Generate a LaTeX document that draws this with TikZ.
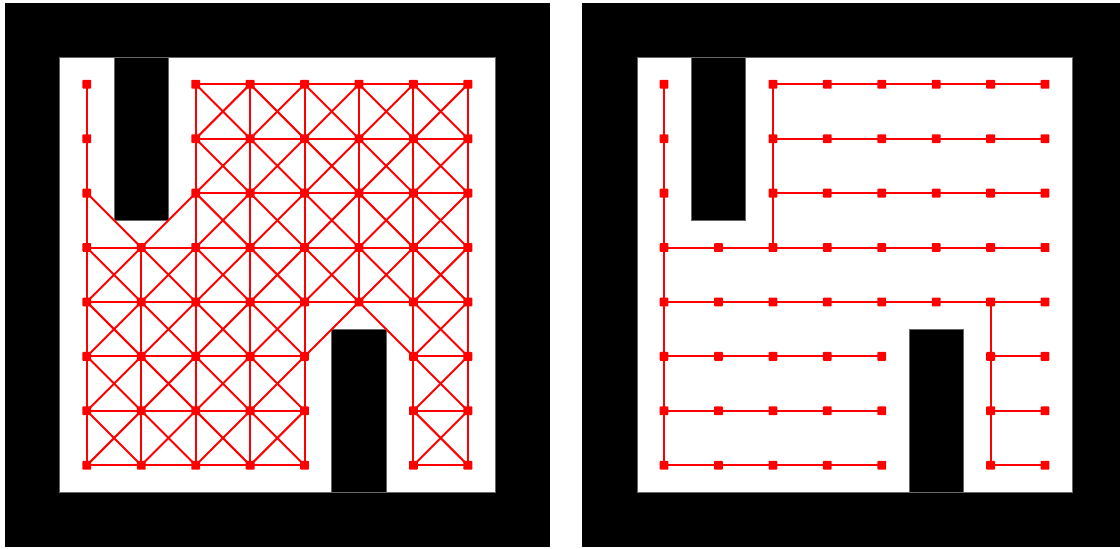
\documentclass[tikz,border=0pt]{standalone}
\pgfdeclarelayer{walls}
\pgfdeclarelayer{links}
\pgfsetlayers{walls,links,main}
\begin{document}
\begin{tikzpicture}[x=1pt,y=-1pt,
  wall/.style={fill=black, draw=black!60, line width=0.6pt},
  link/.style={draw=red, line width=2pt},
  vtx/.style={rectangle, fill=red, draw=none, minimum size=8.8pt, inner sep=0pt, rounded corners=0.8pt}]
\def\c{54.43}
\def\oy{2.6}
\useasboundingbox (0,0) rectangle (1120,549);
% walls of both panels
\begin{pgfonlayer}{walls}
\fill[white] (0,0) rectangle (1120,549);
\foreach \ox in {5.2,582.4}{
  \fill[black] (\ox,\oy) rectangle ({\ox+10*\c},{\oy+10*\c});
  \fill[white] ({\ox+\c},{\oy+\c}) rectangle ({\ox+9*\c},{\oy+9*\c});
  \draw[wall] ({\ox+2*\c},{\oy+\c}) rectangle ({\ox+3*\c},{\oy+4*\c});
  \draw[wall] ({\ox+6*\c},{\oy+6*\c}) rectangle ({\ox+7*\c},{\oy+9*\c});
  \draw[black!60, line width=0.6pt] ({\ox+\c},{\oy+\c}) rectangle ({\ox+9*\c},{\oy+9*\c});
}
\end{pgfonlayer}
% nodes on free cells
\foreach \P/\ox in {L/5.2,R/582.4}{
  \foreach \i in {0,...,7}{
    \foreach \j in {0,...,7}{
      \pgfmathtruncatemacro\blk{or(and(\i==1,\j<3),and(\i==5,\j>4))}
      \ifnum\blk=0
        \node[vtx] (\P-\i-\j) at ({\ox+(\i+1.5)*\c},{\oy+(\j+1.5)*\c}) {};
      \fi
    }
  }
}
% left panel: 8-connected grid graph
\begin{pgfonlayer}{links}
\foreach \i in {0,...,7}{
  \foreach \j in {0,...,7}{
    \pgfmathtruncatemacro\blk{or(and(\i==1,\j<3),and(\i==5,\j>4))}
    \ifnum\blk=0
      \foreach \di/\dj in {1/0,0/1,1/1,1/-1}{
        \pgfmathtruncatemacro\ni{\i+\di}
        \pgfmathtruncatemacro\nj{\j+\dj}
        \pgfmathtruncatemacro\ok{and(and(\ni<8,\nj<8),\nj>-1)*(1-or(and(\ni==1,\nj<3),and(\ni==5,\nj>4)))}
        \ifnum\ok=1
          \draw[link] (L-\i-\j.center) -- (L-\ni-\nj.center);
        \fi
      }
    \fi
  }
}
% right panel: spanning tree
\foreach \j in {0,...,6}{
  \pgfmathtruncatemacro\nj{\j+1}
  \draw[link] (R-0-\j.center) -- (R-0-\nj.center);
}
\foreach \j in {0,1,2}{
  \pgfmathtruncatemacro\nj{\j+1}
  \draw[link] (R-2-\j.center) -- (R-2-\nj.center);
}
\foreach \j in {4,5,6}{
  \pgfmathtruncatemacro\nj{\j+1}
  \draw[link] (R-6-\j.center) -- (R-6-\nj.center);
}
\foreach \j in {3,4}{
  \foreach \i in {0,...,6}{
    \pgfmathtruncatemacro\ni{\i+1}
    \draw[link] (R-\i-\j.center) -- (R-\ni-\j.center);
  }
}
\foreach \j in {0,1,2}{
  \foreach \i in {2,...,6}{
    \pgfmathtruncatemacro\ni{\i+1}
    \draw[link] (R-\i-\j.center) -- (R-\ni-\j.center);
  }
}
\foreach \j in {5,6,7}{
  \foreach \i in {0,...,3}{
    \pgfmathtruncatemacro\ni{\i+1}
    \draw[link] (R-\i-\j.center) -- (R-\ni-\j.center);
  }
  \draw[link] (R-6-\j.center) -- (R-7-\j.center);
}
\end{pgfonlayer}
\end{tikzpicture}
\end{document}
